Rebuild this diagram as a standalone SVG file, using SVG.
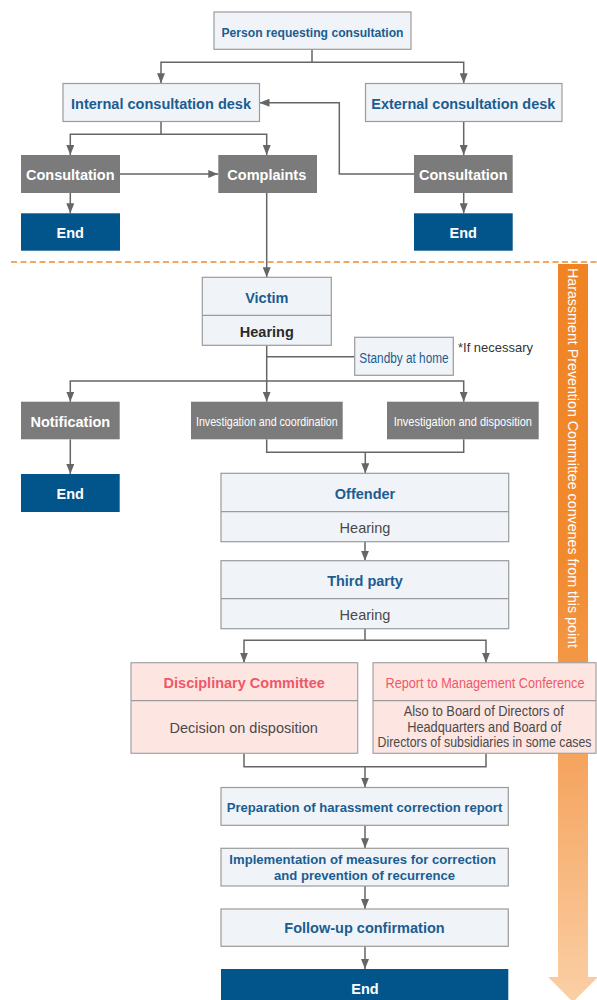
<svg xmlns="http://www.w3.org/2000/svg" width="597" height="1000" viewBox="0 0 597 1000">
<defs>
<style>
.lb{fill:#f0f4f8;stroke:#9b9b9b;stroke-width:1.2}
.gb{fill:#7b7b7b}
.eb{fill:#02558b}
.pb{fill:#fde5e2;stroke:#a3a3a3;stroke-width:1.2}
.dv{stroke:#9b9b9b;stroke-width:1.2}
text{font-family:"Liberation Sans",Arial,Helvetica,sans-serif;text-anchor:middle}
.bt{font-weight:bold;font-size:14.5px;fill:#1b5d91}
.wt{font-weight:bold;font-size:14.5px;fill:#ffffff}
.wc{font-size:13.5px;fill:#ffffff}
.dk{font-weight:bold;font-size:14.5px;fill:#2a2a2a}
.gt{font-size:14.5px;fill:#4a4a4a}
.rt{font-weight:bold;font-size:14.5px;fill:#ef5868}
.rc{font-size:14px;fill:#ef5868}
.nt{font-size:14px;fill:#4a4a4a}
.cn{fill:none;stroke:#666666;stroke-width:1.5}
</style>
<marker id="ah" markerUnits="userSpaceOnUse" markerWidth="10" markerHeight="8" refX="10" refY="4" orient="auto">
<path d="M0,0 L10,4 L0,8 z" fill="#666666"/>
</marker>
<linearGradient id="og" gradientUnits="userSpaceOnUse" x1="0" y1="264" x2="0" y2="1000">
<stop offset="0" stop-color="#f08324"/>
<stop offset="0.4" stop-color="#f18a2e"/>
<stop offset="0.68" stop-color="#f5a560"/>
<stop offset="1" stop-color="#fbcfa5"/>
</linearGradient>
</defs>
<rect width="597" height="1000" fill="#ffffff"/>

<g id="committee-band">
<path d="M11,262 H597" fill="none" stroke="#f08a33" stroke-width="1.6" stroke-dasharray="6 3.5"/>
<path d="M558,264 H588 V977 H598 L573,1002 L548,977 H558 Z" fill="url(#og)"/>
<text transform="translate(573,268) rotate(90)" dominant-baseline="central" style="text-anchor:start;font-size:14.2px;fill:#ffffff" textLength="380" lengthAdjust="spacingAndGlyphs">Harassment Prevention Committee convenes from this point</text>
</g>

<g id="connectors">
<path class="cn" d="M312,49.3 V62.3 H161 V83.3" marker-end="url(#ah)"/>
<path class="cn" d="M312,62.3 H463.7 V83.3" marker-end="url(#ah)"/>
<path class="cn" d="M161,121.5 V134.3 H70.3 V155" marker-end="url(#ah)"/>
<path class="cn" d="M161,134.3 H266.7 V155" marker-end="url(#ah)"/>
<path class="cn" d="M463.7,121.5 V155" marker-end="url(#ah)"/>
<path class="cn" d="M120,174 H218.3" marker-end="url(#ah)"/>
<path class="cn" d="M414,174 H339.3 V102.7 H259.5" marker-end="url(#ah)"/>
<path class="cn" d="M70.3,193 V213.3" marker-end="url(#ah)"/>
<path class="cn" d="M463.7,193 V213.3" marker-end="url(#ah)"/>
<path class="cn" d="M266.7,193 V277.3" marker-end="url(#ah)"/>
<path class="cn" d="M266.7,345.3 V401.7" marker-end="url(#ah)"/>
<path class="cn" d="M266.7,356.7 H354.7"/>
<path class="cn" d="M266.7,381 H70.3 V401.7" marker-end="url(#ah)"/>
<path class="cn" d="M266.7,381 H463.7 V401.7" marker-end="url(#ah)"/>
<path class="cn" d="M70.3,439.3 V474" marker-end="url(#ah)"/>
<path class="cn" d="M266.7,439.3 V452.3 H463.7 V439.3"/>
<path class="cn" d="M365.3,452.3 V473.3" marker-end="url(#ah)"/>
<path class="cn" d="M365,541.7 V560.7" marker-end="url(#ah)"/>
<path class="cn" d="M365,628.7 V640.3 H244 V662.7" marker-end="url(#ah)"/>
<path class="cn" d="M365,640.3 H486 V662.7" marker-end="url(#ah)"/>
<path class="cn" d="M244,753.3 V766.7 H486 V753.3"/>
<path class="cn" d="M365,766.7 V787.5" marker-end="url(#ah)"/>
<path class="cn" d="M365,825.3 V848.3" marker-end="url(#ah)"/>
<path class="cn" d="M365,886 V909" marker-end="url(#ah)"/>
<path class="cn" d="M365,946.3 V969" marker-end="url(#ah)"/>
</g>

<g id="person">
<rect class="lb" x="214" y="12" width="197" height="37.3"/>
<text class="bt" x="312.5" y="36.8" style="font-size:13.5px" textLength="182" lengthAdjust="spacingAndGlyphs">Person requesting consultation</text>
</g>
<g id="internal-desk">
<rect class="lb" x="63" y="83.5" width="196.5" height="38"/>
<text class="bt" x="161" y="108.8" textLength="180" lengthAdjust="spacingAndGlyphs">Internal consultation desk</text>
</g>
<g id="external-desk">
<rect class="lb" x="365.5" y="83.5" width="196.5" height="38"/>
<text class="bt" x="463.3" y="108.8" textLength="184" lengthAdjust="spacingAndGlyphs">External consultation desk</text>
</g>
<g id="consultation-internal">
<rect class="gb" x="21" y="155" width="99" height="38"/>
<text class="wt" x="70.3" y="179.8">Consultation</text>
</g>
<g id="complaints">
<rect class="gb" x="218.3" y="155" width="98.7" height="38"/>
<text class="wt" x="266.8" y="179.8">Complaints</text>
</g>
<g id="consultation-external">
<rect class="gb" x="414" y="155" width="98.7" height="38"/>
<text class="wt" x="463.3" y="179.8">Consultation</text>
</g>
<g id="end-internal">
<rect class="eb" x="21" y="213.3" width="99" height="37.4"/>
<text class="wt" x="70.3" y="237.7">End</text>
</g>
<g id="end-external">
<rect class="eb" x="414" y="213.3" width="98.7" height="37.4"/>
<text class="wt" x="463.3" y="237.7">End</text>
</g>
<g id="victim">
<rect class="lb" x="202.3" y="277.3" width="129" height="68"/>
<line class="dv" x1="202.3" y1="315.3" x2="331.3" y2="315.3"/>
<text class="bt" x="266.8" y="303.3">Victim</text>
<text class="dk" x="266.8" y="337.3">Hearing</text>
</g>
<g id="standby">
<rect class="lb" x="354.7" y="337.3" width="98.6" height="38"/>
<text x="404" y="362.5" style="font-size:14px;fill:#1b5d91" textLength="89.3" lengthAdjust="spacingAndGlyphs">Standby at home</text>
</g>
<g id="note">
<text x="458" y="351.7" style="text-anchor:start;font-size:13.5px;fill:#333333" textLength="75" lengthAdjust="spacingAndGlyphs">*If necessary</text>
</g>
<g id="notification">
<rect class="gb" x="21" y="401.7" width="98.7" height="37.6"/>
<text class="wt" x="70.3" y="426.5">Notification</text>
</g>
<g id="investigation-coordination">
<rect class="gb" x="191" y="401.7" width="151.7" height="37.6"/>
<text class="wc" x="266.8" y="426.3" textLength="141.7" lengthAdjust="spacingAndGlyphs">Investigation and coordination</text>
</g>
<g id="investigation-disposition">
<rect class="gb" x="387" y="401.7" width="151.7" height="37.6"/>
<text class="wc" x="462.8" y="426.3" textLength="138.3" lengthAdjust="spacingAndGlyphs">Investigation and disposition</text>
</g>
<g id="end-notification">
<rect class="eb" x="21" y="474" width="98.7" height="38"/>
<text class="wt" x="70.3" y="499">End</text>
</g>
<g id="offender">
<rect class="lb" x="221" y="473.3" width="287.7" height="68.4"/>
<line class="dv" x1="221" y1="511.7" x2="508.7" y2="511.7"/>
<text class="bt" x="365" y="499">Offender</text>
<text class="gt" x="365" y="533.3">Hearing</text>
</g>
<g id="third-party">
<rect class="lb" x="221" y="560.7" width="287.7" height="68"/>
<line class="dv" x1="221" y1="598.7" x2="508.7" y2="598.7"/>
<text class="bt" x="365" y="586">Third party</text>
<text class="gt" x="365" y="620">Hearing</text>
</g>
<g id="disciplinary-committee">
<rect class="pb" x="131" y="662.7" width="226.7" height="90.6"/>
<line class="dv" x1="131" y1="700.7" x2="357.7" y2="700.7"/>
<text class="rt" x="244.2" y="687.7">Disciplinary Committee</text>
<text class="gt" x="243.7" y="732.7">Decision on disposition</text>
</g>
<g id="management-conference">
<rect class="pb" x="373" y="662.7" width="223" height="90.6"/>
<line class="dv" x1="373" y1="700.7" x2="596" y2="700.7"/>
<text class="rc" x="485" y="687.7" textLength="199" lengthAdjust="spacingAndGlyphs">Report to Management Conference</text>
<text class="nt" x="483.7" y="716.2" textLength="160" lengthAdjust="spacingAndGlyphs">Also to Board of Directors of</text>
<text class="nt" x="484.2" y="731.6" textLength="154" lengthAdjust="spacingAndGlyphs">Headquarters and Board of</text>
<text class="nt" x="484.5" y="746.5" textLength="214" lengthAdjust="spacingAndGlyphs">Directors of subsidiaries in some cases</text>
</g>
<g id="correction-report">
<rect class="lb" x="221" y="787.5" width="287.3" height="37.8"/>
<text class="bt" x="364.5" y="811.8" style="font-size:13.2px" textLength="275.6" lengthAdjust="spacingAndGlyphs">Preparation of harassment correction report</text>
</g>
<g id="measures">
<rect class="lb" x="221" y="848.3" width="287.3" height="37.7"/>
<text class="bt" x="362.7" y="863.5" style="font-size:13.2px" textLength="266.7" lengthAdjust="spacingAndGlyphs">Implementation of measures for correction</text>
<text class="bt" x="364.5" y="879.5" style="font-size:13.2px" textLength="181" lengthAdjust="spacingAndGlyphs">and prevention of recurrence</text>
</g>
<g id="follow-up">
<rect class="lb" x="221" y="909" width="287.3" height="37.3"/>
<text class="bt" x="364.5" y="933.4">Follow-up confirmation</text>
</g>
<g id="end-final">
<rect class="eb" x="221" y="969" width="287.3" height="40"/>
<text class="wt" x="365" y="993.5">End</text>
</g>
</svg>
